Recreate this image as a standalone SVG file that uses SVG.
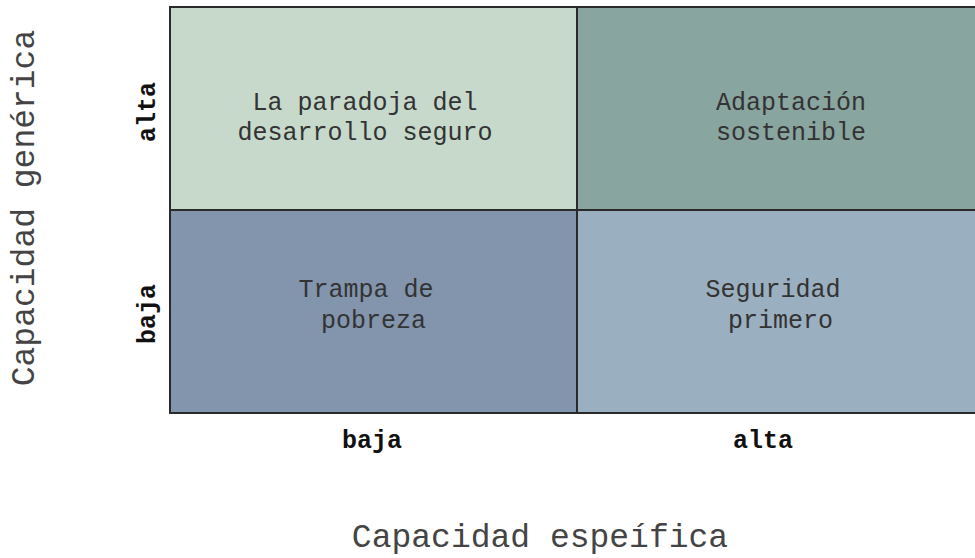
<svg xmlns="http://www.w3.org/2000/svg" width="975" height="558" viewBox="0 0 975 558">
<style>
.q{stroke:#2a2a2a;stroke-width:2}
.qt{font-family:"Liberation Mono","Courier New",monospace;font-size:25px;fill:#333;text-anchor:middle}
.lb{font-family:"Liberation Mono","Courier New",monospace;font-size:25px;font-weight:bold;fill:#111;text-anchor:middle}
.ax{font-family:"Liberation Mono","Courier New",monospace;font-size:33px;fill:#444;text-anchor:middle}
</style>
<rect width="975" height="558" fill="#ffffff"/>
<g id="q-tl">
<rect class="q" x="170" y="7" width="407" height="203" fill="#c6d9cb"/>
<text class="qt" x="365" y="110">La paradoja del</text>
<text class="qt" x="365" y="140">desarrollo seguro</text>
</g>
<g id="q-tr">
<rect class="q" x="577" y="7" width="400" height="203" fill="#89a5a0"/>
<text class="qt" x="791" y="110">Adaptación</text>
<text class="qt" x="791" y="140">sostenible</text>
</g>
<g id="q-bl">
<rect class="q" x="170" y="210" width="407" height="203" fill="#8295ad"/>
<text class="qt" x="366" y="297">Trampa de</text>
<text class="qt" x="366" y="328" xml:space="preserve"> pobreza</text>
</g>
<g id="q-br">
<rect class="q" x="577" y="210" width="400" height="203" fill="#9aafc0"/>
<text class="qt" x="773" y="297">Seguridad</text>
<text class="qt" x="773" y="328" xml:space="preserve"> primero</text>
</g>
<g id="labels">
<text class="lb" transform="translate(155,112) rotate(-90)">alta</text>
<text class="lb" transform="translate(155,314) rotate(-90)">baja</text>
<text class="lb" x="372" y="448">baja</text>
<text class="lb" x="763" y="448">alta</text>
</g>
<g id="axes">
<text class="ax" transform="translate(34,208) rotate(-90)">Capacidad genérica</text>
<text class="ax" x="540" y="547">Capacidad espeífica</text>
</g>
</svg>
